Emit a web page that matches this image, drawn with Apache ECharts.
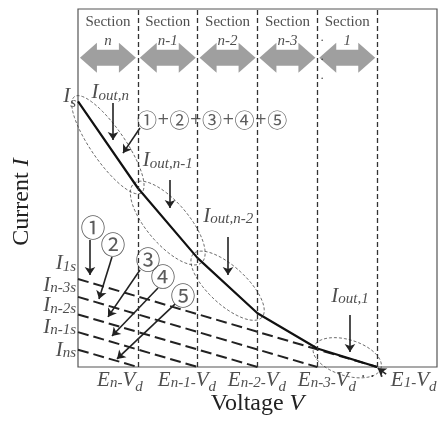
<!DOCTYPE html>
<html>
<head>
<meta charset="utf-8">
<script src="https://cdn.jsdelivr.net/npm/echarts@6/dist/echarts.min.js"></script>
<style>
  html, body { margin: 0; padding: 0; background: #fff; }
  #chart { width: 438px; height: 423px; }
</style>
</head>
<body>
<div id="chart"></div>
<script>
var SERIF = '"Liberation Serif", "DejaVu Serif", serif';
var CIRC = '"Noto Sans CJK JP", "DejaVu Sans", sans-serif';
var INK = '#222';

// x: one unit per section (0..6), y: current in arbitrary units (0..120)
var boundaryX = [1, 2, 3, 4, 5];
var sectionNames = ['n', 'n-1', 'n-2', 'n-3', '1'];
var sectionX = [0.5, 1.5, 2.5, 3.5, 4.5];

// total output current (solid line)
var sumX = [0, 1, 2, 3, 4, 5];
var sumY = [89, 60, 36.5, 18, 6.2, 0];

// single-section currents (dashed lines), I1s .. Ins
var compStart = [29.5, 23.5, 17.6, 11.7, 5.8];
var compEnd = [5, 4, 3, 2, 1];

// tick labels
var yTickLabels = ['{I|I}{sd|s}', '{I|I}{sb|1s}', '{I|I}{sb|n-3s}', '{I|I}{sb|n-2s}', '{I|I}{sb|n-1s}', '{I|I}{sb|ns}'];
var yTickPos = [90, 33.9, 26.8, 19.8, 12.7, 5.0];
var xTickLabels = ['{I|E}{sb|n-}{I|V}{sd|d}', '{I|E}{sb|n-1-}{I|V}{sd|d}', '{I|E}{sb|n-2-}{I|V}{sd|d}',
                   '{I|E}{sb|n-3-}{I|V}{sd|d}', '{dot|· · ·}', '{I|E}{sb|1-}{I|V}{sd|d}'];
var xTickPos = [0.70, 1.82, 2.99, 4.16, 4.92, 5.61];

// annotations
var noteLabels = ['{I|I}{sb|out,n}', '{I|I}{sb|out,n-1}', '{I|I}{sb|out,n-2}', '{I|I}{sb|out,1}',
                  '{c|①}{p|+}{c|②}{p|+}{c|③}{p|+}{c|④}{p|+}{c|⑤}'];
var noteX = [0.54, 1.50, 2.51, 4.545, 2.24];
var noteY = [91.2, 68.4, 49.9, 23.1, 82.8];

var circleLabels = ['①', '②', '③', '④', '⑤'];
var circleX = [0.25, 0.585, 1.17, 1.42, 1.755];
var circleY = [46.9, 40.9, 35.9, 30.2, 24.1];

var arrowFrom = [[0.585, 88.5], [1.036, 80.1], [1.537, 62.7], [2.507, 43.6], [4.545, 17.4],
                 [0.2, 42.6], [0.568, 36.9], [1.036, 32.5], [1.337, 26.5], [1.621, 21.1], [5.15, -2.4]];
var arrowTo = [[0.585, 76.1], [0.752, 71.7], [1.537, 53.3], [2.507, 30.8], [4.545, 5.0],
               [0.2, 30.8], [0.351, 22.8], [0.501, 16.8], [0.568, 10.4], [0.652, 2.7], [5.01, -0.4]];

// dotted ellipses around segments of the total current
var ellipseSeg = [0, 1, 2, 4];
var ellipseHalfWidth = [17, 21, 19, 18];
var ellipsePad = [6, 6, 6, 4];

var rich = {
  I: { fontFamily: SERIF, fontStyle: 'italic', fontSize: 21, color: INK, verticalAlign: 'bottom', padding: [0, 0, 4, 0] },
  sb: { fontFamily: SERIF, fontStyle: 'italic', fontSize: 15, color: INK, verticalAlign: 'bottom', padding: [0, 0, 4, 0] },
  sd: { fontFamily: SERIF, fontStyle: 'italic', fontSize: 15, color: INK, verticalAlign: 'bottom' },
  dot: { fontFamily: SERIF, fontSize: 16, color: INK, verticalAlign: 'bottom', padding: [0, 0, 6, 0] },
  c: { fontFamily: CIRC, fontSize: 20, color: '#333' },
  p: { fontFamily: '"DejaVu Sans", sans-serif', fontSize: 15, color: '#333' },
  i: { fontFamily: SERIF, fontStyle: 'italic', fontSize: 15, color: INK }
};

var arrowPath = 'path://M0,15 L17,0 L17,7 L39,7 L39,0 L56,15 L39,30 L39,23 L17,23 L17,30 Z';

function textSeries(xs, ys, labels, labelOpt) {
  return {
    type: 'scatter',
    symbolSize: 0,
    clip: false,
    silent: true,
    data: xs.map(function (x, i) { return { value: [x, ys[i]], name: labels[i] }; }),
    label: Object.assign({
      show: true,
      formatter: function (p) { return p.name; },
      rich: rich
    }, labelOpt)
  };
}

var chart = echarts.init(document.getElementById('chart'));

var series = [];

// section header arrows
series.push({
  type: 'scatter',
  symbol: arrowPath,
  symbolSize: [56, 30],
  itemStyle: { color: '#878787' },
  silent: true,
  data: sectionX.map(function (x) { return [x, 103.7]; })
});
series.push(textSeries(sectionX, sectionX.map(function () { return 112.3; }),
  sectionNames.map(function (n) { return 'Section\n{i|' + n + '}'; }),
  { position: 'inside', fontFamily: SERIF, fontSize: 15, color: INK, lineHeight: 19 }));
series.push(textSeries([4.08], [102.9], ['·\n·\n·'],
  { position: 'inside', fontFamily: SERIF, fontSize: 13, color: INK, lineHeight: 19 }));

// dashed single-section lines
compStart.forEach(function (s, i) {
  series.push({
    type: 'line',
    symbol: 'none',
    silent: true,
    lineStyle: { color: INK, width: 2, type: [11, 5] },
    data: [[0, s], [compEnd[i], 0]]
  });
});

// total current + section boundaries
series.push({
  type: 'line',
  symbol: 'none',
  silent: true,
  lineStyle: { color: '#111', width: 2.2 },
  data: sumX.map(function (x, i) { return [x, sumY[i]]; }),
  markLine: {
    silent: true,
    symbol: 'none',
    label: { show: false },
    lineStyle: { color: '#333', width: 1.3, type: [5, 3] },
    data: boundaryX.map(function (x) { return { xAxis: x }; })
  }
});

// ellipses
series.push({
  type: 'custom',
  coordinateSystem: 'cartesian2d',
  silent: true,
  renderItem: function (params, api) {
    var s = api.value(0);
    var p1 = api.coord([sumX[s], sumY[s]]);
    var p2 = api.coord([sumX[s + 1], sumY[s + 1]]);
    var cx = (p1[0] + p2[0]) / 2, cy = (p1[1] + p2[1]) / 2;
    var dx = p2[0] - p1[0], dy = p2[1] - p1[1];
    var a = Math.sqrt(dx * dx + dy * dy) / 2 + api.value(2);
    var b = api.value(1);
    var ang = Math.atan2(dy, dx);
    var pts = [];
    for (var k = 0; k < 80; k++) {
      var t = k / 80 * Math.PI * 2;
      var ex = a * Math.cos(t), ey = b * Math.sin(t);
      pts.push([cx + ex * Math.cos(ang) - ey * Math.sin(ang), cy + ex * Math.sin(ang) + ey * Math.cos(ang)]);
    }
    return {
      type: 'polygon',
      shape: { points: pts },
      style: { fill: 'none', stroke: '#444', lineWidth: 0.8, lineDash: [3, 2] }
    };
  },
  data: ellipseSeg.map(function (s, i) { return [s, ellipseHalfWidth[i], ellipsePad[i]]; })
});

// annotation arrows
series.push({
  type: 'lines',
  coordinateSystem: 'cartesian2d',
  silent: true,
  clip: false,
  symbol: ['none', 'arrow'],
  symbolSize: 8,
  lineStyle: { color: INK, width: 1.6, opacity: 1 },
  data: arrowFrom.map(function (f, i) { return { coords: [f, arrowTo[i]] }; })
});

// text
series.push(textSeries(noteX, noteY, noteLabels, { position: 'inside' }));
series.push(textSeries(circleX, circleY, circleLabels,
  { position: 'inside', fontFamily: CIRC, fontSize: 25, color: '#333' }));
series.push(textSeries(yTickPos.map(function () { return 0; }), yTickPos, yTickLabels,
  { position: 'left', distance: 2 }));
series.push(textSeries(xTickPos, xTickPos.map(function () { return 0; }), xTickLabels,
  { position: 'bottom', distance: 3 }));

chart.setOption({
  animation: false,
  grid: { left: 78, right: 1, top: 9, bottom: 56, show: true, borderColor: '#555', borderWidth: 1.2 },
  xAxis: {
    type: 'value', min: 0, max: 6,
    axisLine: { show: false }, axisTick: { show: false }, axisLabel: { show: false }, splitLine: { show: false },
    name: '{r|Voltage }{v|V}', nameLocation: 'middle', nameGap: 25,
    nameTextStyle: {
      rich: {
        r: { fontFamily: SERIF, fontSize: 24, color: INK },
        v: { fontFamily: SERIF, fontStyle: 'italic', fontSize: 24, color: INK }
      }
    }
  },
  yAxis: {
    type: 'value', min: 0, max: 120,
    axisLine: { show: false }, axisTick: { show: false }, axisLabel: { show: false }, splitLine: { show: false },
    name: '{r|Current }{v|I}', nameLocation: 'middle', nameGap: 44,
    nameTextStyle: {
      padding: [0, 28, 0, 0],
      rich: {
        r: { fontFamily: SERIF, fontSize: 24, color: INK },
        v: { fontFamily: SERIF, fontStyle: 'italic', fontSize: 24, color: INK }
      }
    }
  },
  series: series
});
window.addEventListener('resize', function () { chart.resize(); });
</script>
</body>
</html>
